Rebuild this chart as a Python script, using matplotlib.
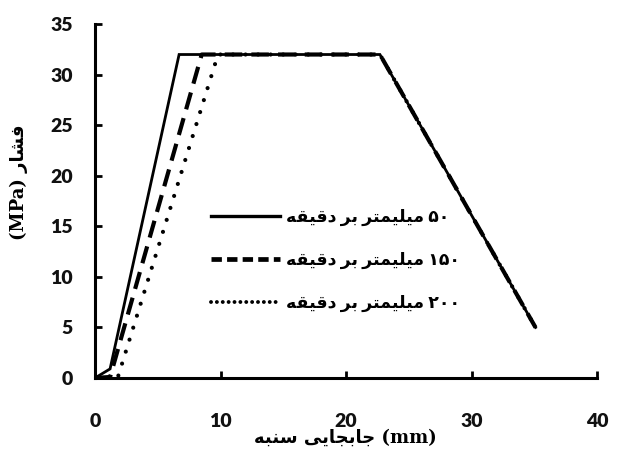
import numpy as np
import matplotlib
matplotlib.use("Agg")
import matplotlib.pyplot as plt
from matplotlib.lines import Line2D

# punch displacement (mm) and pressure (MPa) for the three speeds
x50 = [0, 1.2, 6.7, 22.7, 35.1]
y50 = [0, 0.9, 32, 32, 5]
x150 = [0, 1.2, 8.5, 22.7, 35.1]
y150 = [0, 0.1, 32, 32, 5]
x200 = [0, 1.8, 9.8, 22.7, 35.1]
y200 = [0, 0, 32, 32, 5]

xticks = [0, 10, 20, 30, 40]
yticks = [0, 5, 10, 15, 20, 25, 30, 35]

labels = ["۵۰ میلیمتر بر دقیقه", "۱۵۰ میلیمتر بر دقیقه", "۲۰۰ میلیمتر بر دقیقه"]
xlabel_words = ["جابجایی", "سنبه"]
ylabel_word = "فشار"

# simple arabic shaping -> presentation forms (isolated, final, initial, medial)
forms = {
    'ا': ('\uFE8D', '\uFE8E', None, None),
    'ب': ('\uFE8F', '\uFE90', '\uFE91', '\uFE92'),
    'ت': ('\uFE95', '\uFE96', '\uFE97', '\uFE98'),
    'ج': ('\uFE9D', '\uFE9E', '\uFE9F', '\uFEA0'),
    'د': ('\uFEA9', '\uFEAA', None, None),
    'ر': ('\uFEAD', '\uFEAE', None, None),
    'س': ('\uFEB1', '\uFEB2', '\uFEB3', '\uFEB4'),
    'ش': ('\uFEB5', '\uFEB6', '\uFEB7', '\uFEB8'),
    'ف': ('\uFED1', '\uFED2', '\uFED3', '\uFED4'),
    'ق': ('\uFED5', '\uFED6', '\uFED7', '\uFED8'),
    'ل': ('\uFEDD', '\uFEDE', '\uFEDF', '\uFEE0'),
    'م': ('\uFEE1', '\uFEE2', '\uFEE3', '\uFEE4'),
    'ن': ('\uFEE5', '\uFEE6', '\uFEE7', '\uFEE8'),
    'ه': ('\uFEE9', '\uFEEA', '\uFEEB', '\uFEEC'),
    'ی': ('\uFEEF', '\uFEF0', '\uFEF3', '\uFEF4'),
}


def shape_word(w):
    out = []
    for i, c in enumerate(w):
        if c not in forms:
            out.append(c)
            continue
        prev = w[i - 1] if i > 0 else None
        nxt = w[i + 1] if i < len(w) - 1 else None
        join_prev = prev in forms and forms[prev][2] is not None
        join_next = nxt in forms and forms[c][2] is not None
        iso, fin, ini, med = forms[c]
        if join_prev and join_next:
            out.append(med)
        elif join_prev:
            out.append(fin)
        elif join_next:
            out.append(ini)
        else:
            out.append(iso)
    return "".join(out[::-1])


def rtl(s):
    # number stays on the right, words go right to left
    words = s.split(" ")
    num = words[0]
    rest = [shape_word(w) for w in words[1:]]
    return " ".join(rest[::-1]) + " " + num


fam = ['Lato', 'DejaVu Sans']
plt.rcParams['font.family'] = fam

fig = plt.figure(figsize=(6.19, 4.53), dpi=100)
ax = fig.add_axes([0.1535, 0.1656, 0.811, 0.781])

lw = 2.0
ax.plot(x50, y50, color='black', lw=lw, solid_joinstyle='miter')
ax.plot(x150, y150, color='black', lw=lw + 1.0, dashes=(4.2, 2.2))
ax.plot(x200, y200, color='black', lw=lw + 1.0, dashes=(0.01, 3.0),
        dash_capstyle='round')

ax.set_xlim(0, 40)
ax.set_ylim(0, 35)
ax.set_xticks(xticks)
ax.set_yticks(yticks)
for s in ['top', 'right']:
    ax.spines[s].set_visible(False)
for s in ['left', 'bottom']:
    ax.spines[s].set_linewidth(2.2)
ax.tick_params(direction='in', length=5, width=2)
ax.tick_params(axis='x', pad=25)
ax.tick_params(axis='y', pad=16)
for t in ax.get_xticklabels() + ax.get_yticklabels():
    t.set_fontsize(14)
    t.set_fontweight('heavy')
    t.set_color('#111111')

handles = [
    Line2D([], [], color='black', lw=lw + 0.4),
    Line2D([], [], color='black', lw=lw + 1.4, dashes=(2.2, 1.1)),
    Line2D([], [], color='black', lw=lw + 0.8, dashes=(0.01, 1.5),
           dash_capstyle='round'),
]
leg = ax.legend(handles, [rtl(l) for l in labels], loc='center left',
                bbox_to_anchor=(0.2, 0.332), frameon=False,
                handlelength=4.0, handletextpad=0.3, labelspacing=1.5,
                prop={'family': fam, 'size': 12.5, 'weight': 'bold'})

xl = " ".join(shape_word(w) for w in xlabel_words[::-1])
fig.text(0.558, 0.033, xl + " (mm)", ha='center', va='center',
         fontsize=13, fontweight='bold', family=['DejaVu Serif', 'DejaVu Sans'])
fig.text(0.03, 0.598, "(MPa) " + shape_word(ylabel_word), ha='center',
         va='center', rotation=90, fontsize=13, fontweight='bold',
         family=['DejaVu Serif', 'DejaVu Sans'])

fig.savefig('out.png', dpi=100)
